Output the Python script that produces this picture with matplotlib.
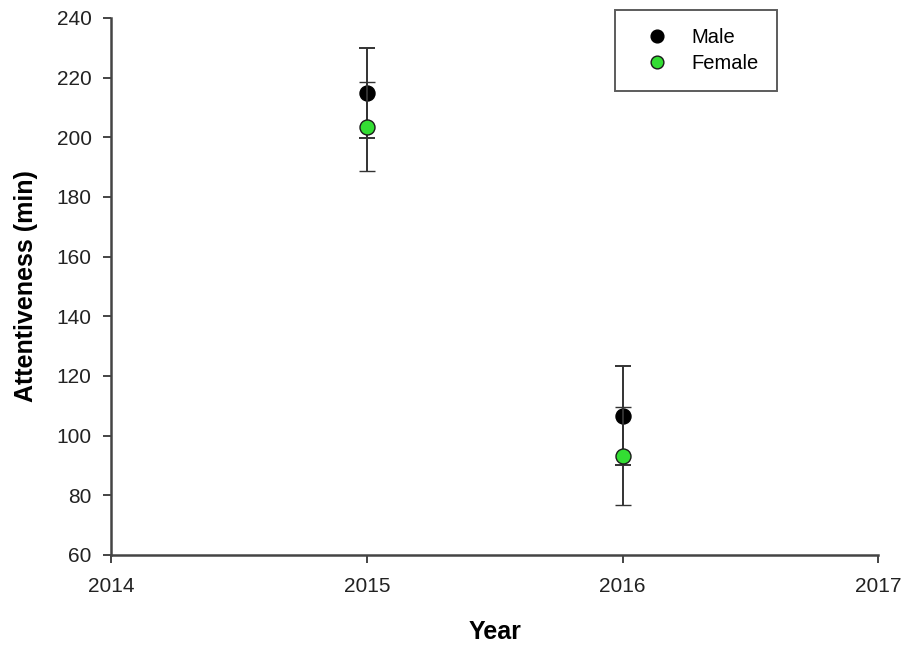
import numpy as np
import matplotlib.pyplot as plt

plt.rcParams['font.family'] = ['Liberation Sans', 'DejaVu Sans']

years = [2015, 2016]
male = [214.8, 106.7]
male_err = [15.0, 16.6]
female = [203.6, 93.2]
female_err = [15.0, 16.5]

fig = plt.figure(figsize=(9.05, 6.51), dpi=100)
ax = fig.add_axes([0.1227, 0.1475, 0.8478, 0.8250])

ax.errorbar(years, male, yerr=male_err, fmt='o', color='black', ms=10.8,
            mec='black', ecolor='#333333', elinewidth=1.4, capsize=6, capthick=1.4,
            label='Male', zorder=3)
ax.errorbar(years, female, yerr=female_err, fmt='o', color='#33dd33', ms=10.8,
            mec='#1a1a1a', mew=1.0, ecolor='#333333', elinewidth=1.4, capsize=6,
            capthick=1.4, label='Female', zorder=4)

ax.set_xlim(2014, 2017)
ax.set_ylim(60, 240)
ax.set_xticks([2014, 2015, 2016, 2017])
ax.set_yticks(np.arange(60, 241, 20))

for s in ['top', 'right']:
    ax.spines[s].set_visible(False)
for s in ['left', 'bottom']:
    ax.spines[s].set_color('#444444')
    ax.spines[s].set_linewidth(1.8)
ax.tick_params(direction='out', length=6, width=1.4, color='#444444',
               labelsize=15, labelcolor='#222222')
ax.tick_params(axis='x', pad=10)
ax.tick_params(axis='y', pad=8)

ax.set_xlabel('Year', fontsize=18, fontweight='bold', labelpad=17)
ax.set_ylabel('Attentiveness (min)', fontsize=18, fontweight='bold', labelpad=13)

handles, labels = ax.get_legend_handles_labels()
handles = [h[0] for h in handles]
leg = ax.legend(handles, labels, loc='upper left', bbox_to_anchor=(0.657, 1.015),
                fontsize=14.5, frameon=True, fancybox=False, borderpad=0.9,
                handlelength=2.4, handletextpad=0.5, labelspacing=0.33,
                markerscale=0.85, borderaxespad=0)
leg.get_frame().set_edgecolor('#333333')
leg.get_frame().set_linewidth(1.4)

fig.savefig('out.png', dpi=100)
